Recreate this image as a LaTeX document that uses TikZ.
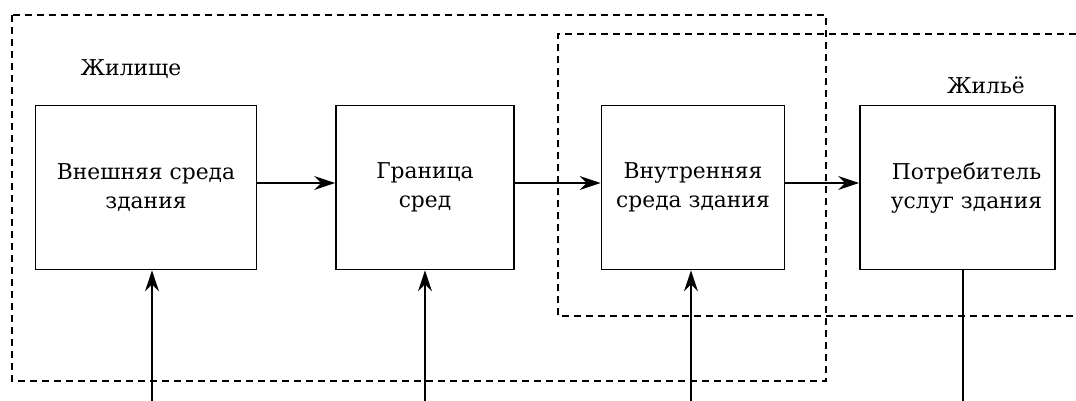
\documentclass[tikz,border=0pt]{standalone}
\usepackage{fontspec}
\setmainfont{DejaVu Serif}
\usetikzlibrary{arrows.meta}
\begin{document}
\begin{tikzpicture}[x=1pt,y=-1pt,
  block/.style={draw,line width=1.8pt,minimum width=#1,minimum height=164pt,inner sep=0pt,
    align=center,font=\fontsize{21.8}{29}\selectfont},
  zone/.style={line width=1.6pt,dash pattern=on 7pt off 5pt},
  flow/.style={line width=1.6pt,-{Stealth[length=21pt,width=14pt,inset=7pt]}},
  lbl/.style={font=\fontsize{21.8}{29}\selectfont,anchor=base,inner sep=0pt}]
\useasboundingbox (0,0) rectangle (1076,401);
% dashed zones
\draw[zone] (12,15) rectangle (826,381);
\draw[zone] (1076,34) -- (558,34) -- (558,316) -- (1076,316);
\node[lbl] (zhil) at (131,76) {Жилище};
\node[lbl] (zhile) at (986,94) {Жильё};
% blocks
\node[block=221pt] (ext) at (146,187.5) {Внешняя среда\\здания};
\node[block=178pt] (bnd) at (425,187.5) {Граница\\сред};
\node[block=183pt] (int) at (693,187.5) {Внутренняя\\среда здания};
\node[block=195pt] (usr) at (957.5,187.5) {\hspace*{18pt}Потребитель\\\hspace*{18pt}услуг здания};
% free ends at the bottom edge
\coordinate (in1) at (152,401);
\coordinate (in2) at (425,401);
\coordinate (in3) at (691,401);
\coordinate (out4) at (963,401);
% connectors
\draw[flow] (ext.east |- 0,183) -- (bnd.west |- 0,183);
\draw[flow] (bnd.east |- 0,183) -- (int.west |- 0,183);
\draw[flow] (int.east |- 0,183) -- (usr.west |- 0,183);
\draw[flow] (in1) -- (in1 |- ext.south);
\draw[flow] (in2) -- (in2 |- bnd.south);
\draw[flow] (in3) -- (in3 |- int.south);
\draw[line width=1.6pt] (out4 |- usr.south) -- (out4);
\end{tikzpicture}
\end{document}
